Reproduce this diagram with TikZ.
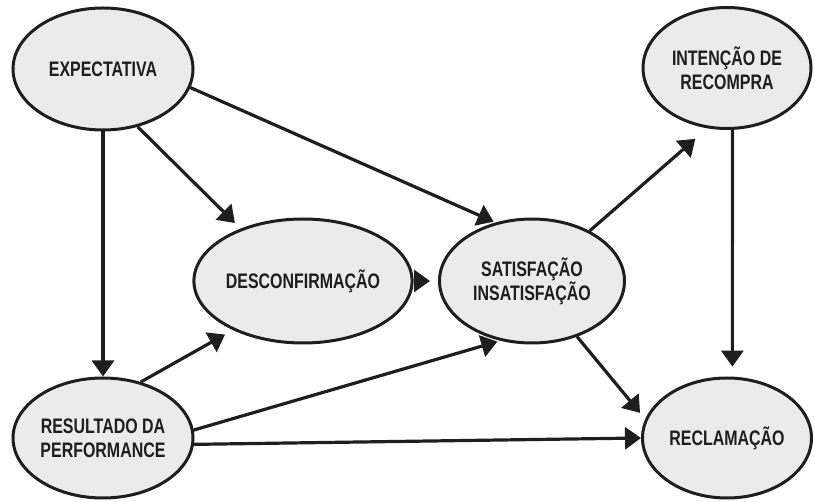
\documentclass[tikz,border=0pt]{standalone}
\usepackage{fontspec}
\setmainfont{Liberation Sans}[FakeStretch=0.76]
\usetikzlibrary{shapes.geometric,arrows.meta}
\definecolor{bubble}{HTML}{EBEBEB}
\definecolor{ink}{HTML}{1E1E1E}
\begin{document}
\begin{tikzpicture}[x=1pt,y=-1pt,
  concept/.style={ellipse, draw=ink, line width=3pt, fill=bubble, inner sep=0pt,
    align=center, font=\fontsize{21}{24}\selectfont\bfseries, text=ink},
  link/.style={draw=ink, line width=3.2pt, -{Triangle[length=16pt,width=22pt]}},
]
\useasboundingbox (0,0) rectangle (814,502);

% constructs
\node[concept, minimum width=180pt, minimum height=122pt] (exp)  at (103,69)  {EXPECTATIVA};
\node[concept, minimum width=179pt, minimum height=124pt] (desc) at (303,281) {DESCONFIRMAÇÃO};
\node[concept, minimum width=185pt, minimum height=124pt] (sat)  at (532,281) {SATISFAÇÃO\\INSATISFAÇÃO};
\node[concept, minimum width=168pt, minimum height=121pt] (int)  at (727,68)  {INTENÇÃO DE\\RECOMPRA};
\node[concept, minimum width=180pt, minimum height=120pt] (res)  at (103,438) {RESULTADO DA\\PERFORMANCE};
\node[concept, minimum width=169pt, minimum height=120pt] (rec)  at (727,438) {RECLAMAÇÃO};

% causal links
\draw[link] (exp.south) -- (res.north);
\draw[link, shorten >=8pt] (exp.-59) -- (desc.140);
\draw[link, shorten >=2pt] (exp.-12) -- (sat.122.6);
\draw[link, shorten >=8pt] (desc.east) -- (sat.west);
\draw[link, shorten >=9pt] (res.56.5) -- (desc.215.7);
\draw[link, shorten >=3pt] (res.5) -- (sat.242.4);
\draw[link] (res.-4) -- (rec.west);
\draw[link, shorten >=8pt] (sat.-51.8) -- (rec.167.5);
\draw[link, shorten >=16pt] (sat.41.2) -- (int.252);
\draw[link, shorten >=10pt] (int.-85.4) -- (rec.85.3);
\end{tikzpicture}
\end{document}
